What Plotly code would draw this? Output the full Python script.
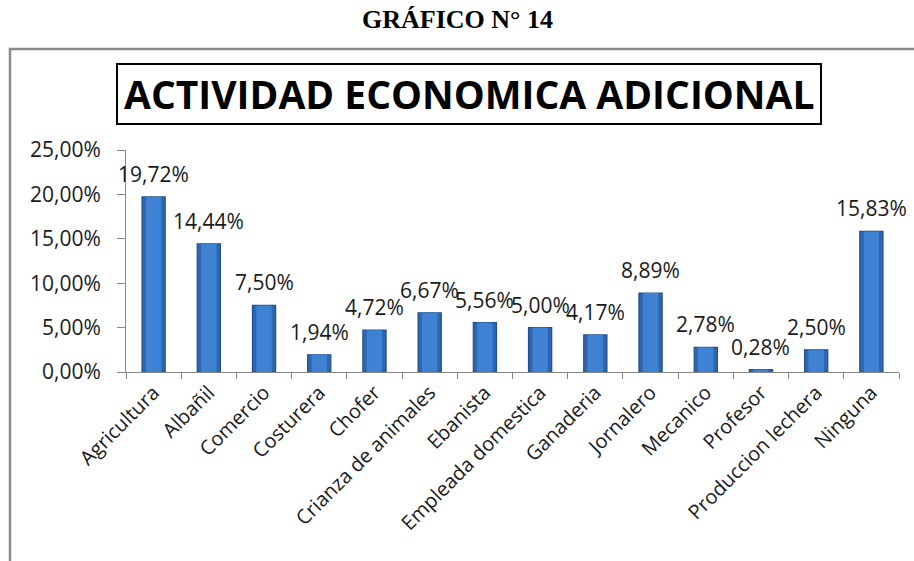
import plotly.graph_objects as go

categories = ["Agricultura", "Albañil", "Comercio", "Costurera", "Chofer",
              "Crianza de animales", "Ebanista", "Empleada domestica", "Ganaderia",
              "Jornalero", "Mecanico", "Profesor", "Produccion lechera", "Ninguna"]
values = [0.1972, 0.1444, 0.0750, 0.0194, 0.0472, 0.0667, 0.0556, 0.0500,
          0.0417, 0.0889, 0.0278, 0.0028, 0.0250, 0.1583]
y_ticks = [0.0, 0.05, 0.10, 0.15, 0.20, 0.25]

W, H = 914, 561
L, R, T, B = 126, 899, 150, 372  # plot area in pixels


def px_x(px):
    return (px - L) / (R - L)


def px_y(py):
    return (B - py) / (B - T)


labels = [f"{v * 100:.2f}%".replace(".", ",") for v in values]

fig = go.Figure()
# outer (darker) body of each bar
fig.add_trace(go.Bar(
    x=categories, y=values, width=0.42,
    marker=dict(color="#2E66B0", line=dict(color="#22508C", width=1.2)),
    hoverinfo="skip",
))
# lighter centre to suggest the cylinder shading
fig.add_trace(go.Bar(
    x=categories, y=values, width=0.28,
    marker=dict(color="#3F81D3", line=dict(width=0)),
    hoverinfo="skip",
))

font_main = "Open Sans, Lato, Arial, sans-serif"
annotations = []
for c, v, t in zip(categories, values, labels):
    annotations.append(dict(x=c, y=v, xref="x", yref="y", text=t, showarrow=False,
                            yanchor="middle", yshift=23,
                            font=dict(family=font_main, size=21, color="#1a1a1a")))

annotations.append(dict(x=px_x(457), y=px_y(19), xref="paper", yref="paper",
                        text="<b>GRÁFICO N° 14</b>", showarrow=False,
                        xanchor="center", yanchor="middle",
                        font=dict(family="Liberation Serif, Times New Roman, serif",
                                  size=26, color="#000000")))
annotations.append(dict(x=px_x(469), y=px_y(94), xref="paper", yref="paper",
                        text="<b>ACTIVIDAD ECONOMICA ADICIONAL</b>", showarrow=False,
                        xanchor="center", yanchor="middle",
                        font=dict(family=font_main, size=39, color="#000000")))

shapes = [
    dict(type="rect", xref="paper", yref="paper",
         x0=px_x(10), x1=px_x(930), y0=px_y(580), y1=px_y(49),
         line=dict(color="#8a8a8a", width=2.5), fillcolor="rgba(0,0,0,0)", layer="below"),
    dict(type="rect", xref="paper", yref="paper",
         x0=px_x(117), x1=px_x(821), y0=px_y(124), y1=px_y(64),
         line=dict(color="#000000", width=2), fillcolor="rgba(0,0,0,0)"),
]

fig.update_layout(
    width=W, height=H,
    margin=dict(l=L, r=W - R, t=T, b=H - B, pad=0, autoexpand=False),
    paper_bgcolor="white", plot_bgcolor="white",
    separators=",.",
    showlegend=False,
    barmode="overlay",
    annotations=annotations,
    shapes=shapes,
    font=dict(family=font_main, color="#1a1a1a"),
)
fig.update_yaxes(
    range=[0, 0.25], tickvals=y_ticks, tickformat=".2%",
    showgrid=False, zeroline=False, automargin=False,
    showline=True, linecolor="#888888", linewidth=1,
    ticks="outside", ticklen=8, tickcolor="#888888",
    ticklabelstandoff=12,
    tickfont=dict(family=font_main, size=21, color="#1a1a1a"),
)
fig.update_xaxes(
    range=[-0.5, len(categories) - 0.5],
    tickangle=-45, showgrid=False, zeroline=False, automargin=False,
    showline=True, linecolor="#888888", linewidth=1,
    ticks="outside", ticklen=6, tickcolor="#888888", tickson="boundaries",
    tickfont=dict(family=font_main, size=20, color="#1a1a1a"),
)

fig.write_html("out.html", config={"displayModeBar": False},
               post_script="document.body.style.margin='0';document.body.style.overflow='hidden';")
